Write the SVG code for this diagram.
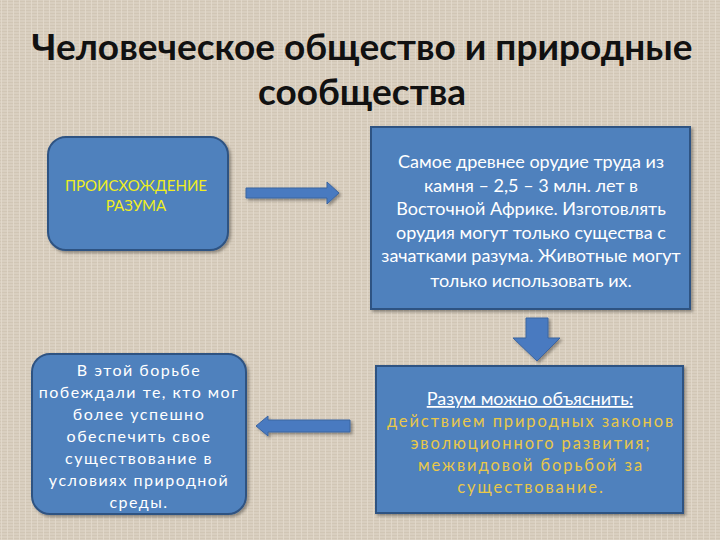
<svg xmlns="http://www.w3.org/2000/svg" width="720" height="540" viewBox="0 0 720 540">
<defs>
<pattern id="tex" width="6" height="6" patternUnits="userSpaceOnUse">
<rect width="6" height="6" fill="#d9cfc0"/>
<path d="M0 1.5H6M0 4.5H6" stroke="#cfc4b3" stroke-width="0.8"/>
<path d="M1.5 0V6" stroke="#e3dacd" stroke-width="0.8"/>
</pattern>
<filter id="sh" x="-10%" y="-10%" width="130%" height="130%">
<feDropShadow dx="2" dy="2" stdDeviation="1.5" flood-color="#000" flood-opacity="0.35"/>
</filter>
</defs>
<style>
.box{fill:#4f81bd;stroke:#2f5382;stroke-width:2;filter:url(#sh)}
.arrow{fill:#4a7ac0;stroke:#3a64a0;stroke-width:1;filter:url(#sh)}
.t{font-family:Lato,"Open Sans","DejaVu Sans",sans-serif;text-anchor:middle}
.title{font-size:37px;font-weight:bold;fill:#111}
.w{fill:#ffffff;font-size:18px}
.s{fill:#ffffff;font-size:16px;letter-spacing:1.5px}
.y{fill:#f0ee1e;font-size:15px}
.g{fill:#e9c84a;font-size:16.5px;letter-spacing:1.9px}
</style>
<rect width="720" height="540" fill="url(#tex)"/>
<g id="title">
<text class="t title" x="362" y="60">Человеческое общество и природные</text>
<text class="t title" x="362" y="105">сообщества</text>
</g>
<g id="connectors">
<path class="arrow" d="M246 188H327V182L339 193L327 204V198H246Z"/>
<path class="arrow" d="M526 318H548V338H560L537 361L513 338H526Z"/>
<path class="arrow" d="M350 420H268V416L256 426L268 436V432H350Z"/>
</g>
<g id="n1">
<rect class="box" x="48" y="137" width="180" height="113" rx="18"/>
<text class="t y" x="136" y="191">ПРОИСХОЖДЕНИЕ</text>
<text class="t y" x="136" y="211">РАЗУМА</text>
</g>
<g id="n2">
<rect class="box" x="371" y="127" width="319" height="182"/>
<text class="t w" x="531" y="168">Самое древнее орудие труда из</text>
<text class="t w" x="531" y="192">камня – 2,5 – 3 млн. лет в</text>
<text class="t w" x="531" y="215">Восточной Африке. Изготовлять</text>
<text class="t w" x="531" y="239">орудия могут только существа с</text>
<text class="t w" x="531" y="262">зачатками разума. Животные могут</text>
<text class="t w" x="531" y="287">только использовать их.</text>
</g>
<g id="n3">
<rect class="box" x="32" y="354" width="214" height="160" rx="18"/>
<text class="t s" x="139" y="376">В этой борьбе</text>
<text class="t s" x="139" y="398">побеждали те, кто  мог</text>
<text class="t s" x="139" y="420">более успешно</text>
<text class="t s" x="139" y="442">обеспечить свое</text>
<text class="t s" x="139" y="464">существование в</text>
<text class="t s" x="139" y="486">условиях природной</text>
<text class="t s" x="139" y="508">среды.</text>
</g>
<g id="n4">
<rect class="box" x="376" y="366" width="307" height="147"/>
<text class="t w" x="530" y="405" style="text-decoration:underline">Разум можно объяснить:</text>
<text class="t g" x="531" y="427">действием природных законов</text>
<text class="t g" x="531" y="449">эволюционного развития;</text>
<text class="t g" x="531" y="471">межвидовой борьбой за</text>
<text class="t g" x="531" y="493">существование.</text>
</g>
</svg>
